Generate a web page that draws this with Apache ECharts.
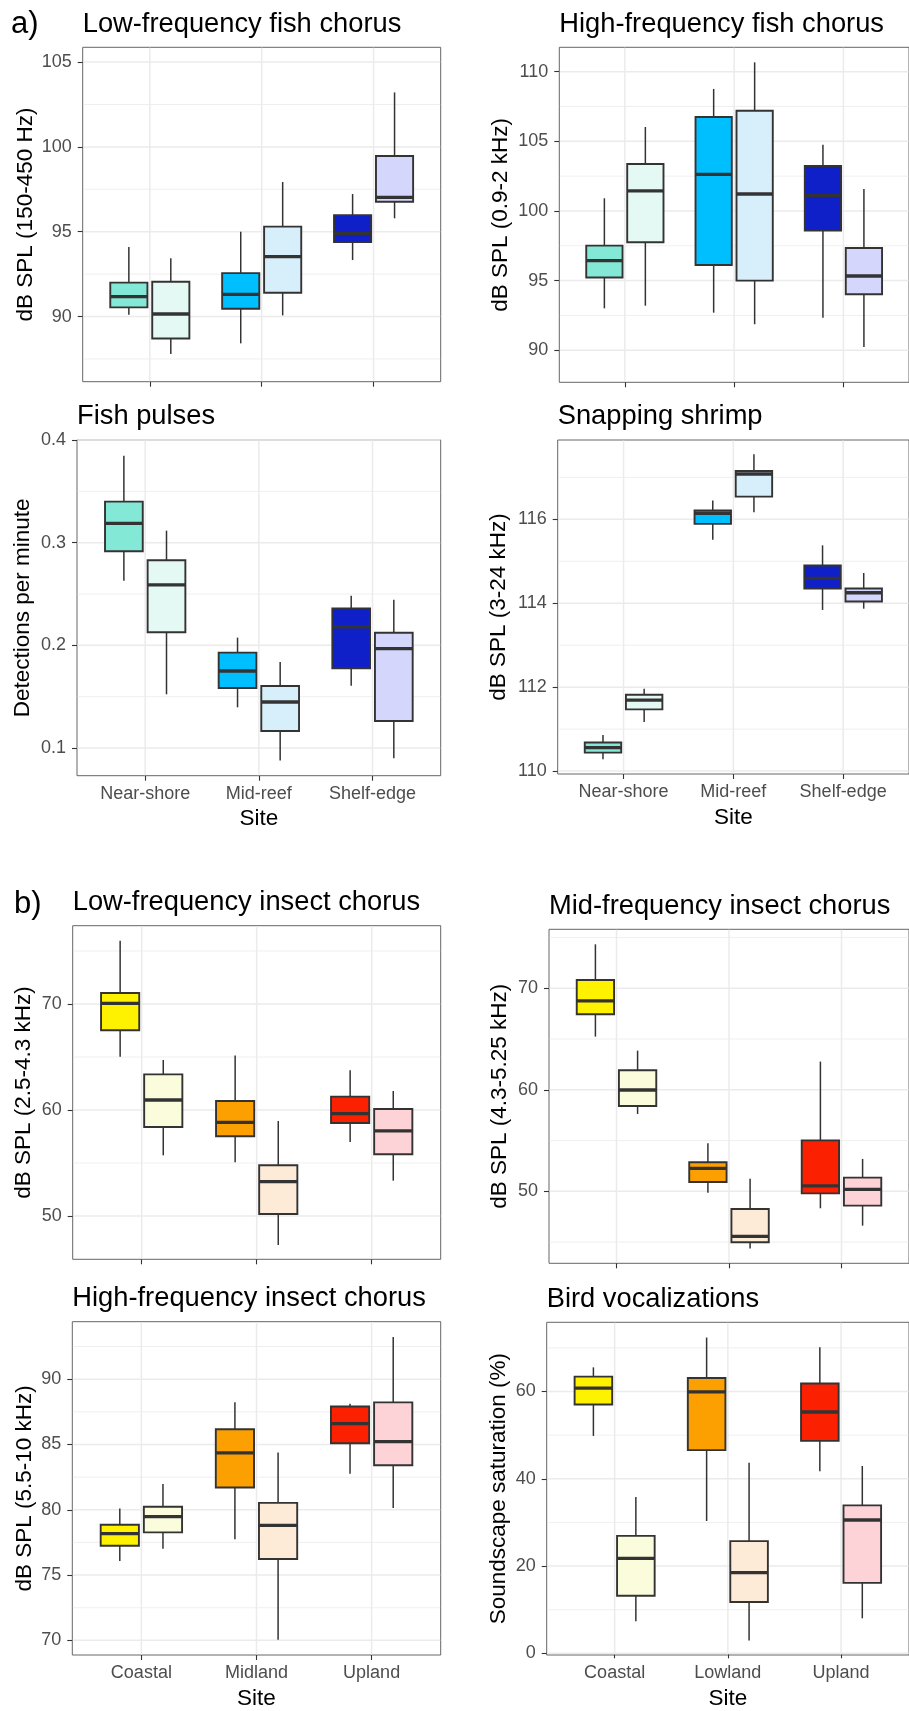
<!DOCTYPE html>
<html>
<head>
<meta charset="utf-8">
<script src="https://cdn.jsdelivr.net/npm/echarts@6/dist/echarts.min.js"></script>
<style>
html, body { margin: 0; padding: 0; background: #ffffff; }
#chart { width: 909px; height: 1711px; }
</style>
</head>
<body>
<div id="chart"></div>
<script>
// ---------------- DATA ----------------
// Sites (x categories)
const reefSites = ['Near-shore', 'Mid-reef', 'Shelf-edge'];
const insectSites = ['Coastal', 'Midland', 'Upland'];
const birdSites = ['Coastal', 'Lowland', 'Upland'];

// Each box: [lower whisker, Q1, median, Q3, upper whisker], one per site
// a) Low-frequency fish chorus
const lfFishDark  = [[90.10, 90.54, 91.17, 92.00, 94.10], [88.42, 90.46, 91.31, 92.56, 95.00], [93.33, 94.39, 94.90, 95.98, 97.22]];
const lfFishLight = [[87.79, 88.71, 90.15, 92.05, 93.43], [90.07, 91.40, 93.53, 95.30, 97.93], [95.79, 96.77, 97.02, 99.46, 103.21]];
// a) High-frequency fish chorus
const hfFishDark  = [[93.01, 95.22, 96.44, 97.51, 100.91], [92.70, 96.12, 102.63, 106.75, 108.76], [92.34, 98.59, 101.12, 103.23, 104.76]];
const hfFishLight = [[93.20, 97.75, 101.44, 103.37, 106.03], [91.87, 95.00, 101.22, 107.20, 110.67], [90.24, 94.02, 95.33, 97.34, 101.58]];
// a) Fish pulses
const pulsesDark  = [[0.263, 0.2916, 0.3188, 0.340, 0.3847], [0.1396, 0.1584, 0.175, 0.1929, 0.2075], [0.1607, 0.1776, 0.2179, 0.236, 0.2484]];
const pulsesLight = [[0.1523, 0.2127, 0.2588, 0.2828, 0.3117], [0.0877, 0.1166, 0.1448, 0.1604, 0.1838], [0.090, 0.1263, 0.1968, 0.2123, 0.2445]];
// a) Snapping shrimp
const shrimpDark  = [[110.28, 110.44, 110.56, 110.68, 110.86], [115.51, 115.89, 116.14, 116.21, 116.45], [113.84, 114.35, 114.59, 114.90, 115.38]];
const shrimpLight = [[111.17, 111.47, 111.69, 111.82, 111.96], [116.17, 116.54, 117.08, 117.15, 117.55], [113.87, 114.04, 114.25, 114.35, 114.72]];
// b) Low-frequency insect chorus
const lfInsectDark  = [[65.03, 67.52, 70.06, 71.04, 75.97], [55.06, 57.52, 58.84, 60.85, 65.13], [56.98, 58.77, 59.65, 61.26, 63.74]];
const lfInsectLight = [[55.72, 58.40, 60.94, 63.36, 64.72], [47.26, 50.19, 53.24, 54.78, 58.96], [53.33, 55.82, 58.02, 60.09, 61.79]];
// b) Mid-frequency insect chorus
const mfInsectDark  = [[65.24, 67.44, 68.75, 70.82, 74.33], [49.87, 50.92, 52.27, 52.86, 54.73], [48.33, 49.80, 50.53, 55.02, 62.78]];
const mfInsectLight = [[57.62, 58.41, 59.98, 61.92, 63.86], [44.38, 44.98, 45.57, 48.26, 51.25], [46.62, 48.59, 50.20, 51.35, 53.19]];
// b) High-frequency insect chorus
const hfInsectDark  = [[76.08, 77.25, 78.17, 78.85, 80.10], [77.74, 81.70, 84.36, 86.17, 88.24], [82.75, 85.09, 86.59, 87.91, 88.12]];
const hfInsectLight = [[77.02, 78.27, 79.47, 80.23, 81.98], [70.05, 76.23, 78.80, 80.53, 84.38], [80.13, 83.41, 85.22, 88.22, 93.23]];
// b) Bird vocalizations
const birdDark  = [[49.83, 57.04, 60.76, 63.41, 65.54], [30.33, 46.57, 59.92, 63.11, 72.37], [41.71, 48.69, 55.30, 61.82, 70.17]];
const birdLight = [[7.34, 13.19, 21.76, 26.92, 35.80], [2.94, 11.75, 18.50, 25.71, 43.69], [8.03, 16.15, 30.56, 33.90, 42.93]];

// Tick labels (major) and minor gridline values
const lfFishTicks = [90, 95, 100, 105],        lfFishMinor = [87.5, 92.5, 97.5, 102.5];
const hfFishTicks = [90, 95, 100, 105, 110],   hfFishMinor = [92.5, 97.5, 102.5, 107.5];
const pulsesTicks = [0.1, 0.2, 0.3, 0.4],      pulsesMinor = [0.15, 0.25, 0.35];
const shrimpTicks = [110, 112, 114, 116],      shrimpMinor = [111, 113, 115, 117];
const lfInsectTicks = [50, 60, 70],            lfInsectMinor = [55, 65, 75];
const mfInsectTicks = [50, 60, 70],            mfInsectMinor = [45, 55, 65, 75];
const hfInsectTicks = [70, 75, 80, 85, 90],    hfInsectMinor = [72.5, 77.5, 82.5, 87.5, 92.5];
const birdTicks = [0, 20, 40, 60],             birdMinor = [10, 30, 50, 70];

// ---------------- STYLE ----------------
const FONT = "'Liberation Sans', Arial, Helvetica, sans-serif";
const fishDarkCols  = ['#84E8D6', '#00BFFF', '#1020C8'];
const fishLightCols = ['#E5F9F4', '#D6EFFA', '#D4D6FC'];
const insectDarkCols  = ['#FFF200', '#FBA000', '#FA2000'];
const insectLightCols = ['#FBFCDB', '#FDEBD8', '#FED3D7'];
const EDGE = '#333333';
const DODGE = 0.1875;
const BOX_HALF = 0.166;
const TITLE_SIZE = 27.3;
const TICK_SIZE = 18;
const AXIS_TITLE_SIZE = 22.5;

const panels = [
  { title: 'Low-frequency fish chorus', yName: 'dB SPL (150-450 Hz)', dark: lfFishDark, light: lfFishLight,
    dc: fishDarkCols, lc: fishLightCols, ticks: lfFishTicks, minor: lfFishMinor, yMin: 86.16, yMax: 105.87,
    sites: reefSites, showX: false, grid: { left: 82.7, top: 47.3, width: 358, height: 334.4 }, nameGap: 57 },
  { title: 'High-frequency fish chorus', yName: 'dB SPL (0.9-2 kHz)', dark: hfFishDark, light: hfFishLight,
    dc: fishDarkCols, lc: fishLightCols, ticks: hfFishTicks, minor: hfFishMinor, yMin: 87.70, yMax: 111.75,
    sites: reefSites, showX: false, grid: { left: 559.3, top: 47.3, width: 359.4, height: 335 }, nameGap: 59 },
  { title: 'Fish pulses', yName: 'Detections per minute', dark: pulsesDark, light: pulsesLight,
    dc: fishDarkCols, lc: fishLightCols, ticks: pulsesTicks, minor: pulsesMinor, yMin: 0.073, yMax: 0.4,
    sites: reefSites, showX: true, grid: { left: 77, top: 440, width: 363.7, height: 335.7 }, nameGap: 54.5 },
  { title: 'Snapping shrimp', yName: 'dB SPL (3-24 kHz)', dark: shrimpDark, light: shrimpLight,
    dc: fishDarkCols, lc: fishLightCols, ticks: shrimpTicks, minor: shrimpMinor, yMin: 109.93, yMax: 117.89,
    sites: reefSites, showX: true, grid: { left: 557.7, top: 440, width: 359, height: 334 }, nameGap: 58.6 },
  { title: 'Low-frequency insect chorus', yName: 'dB SPL (2.5-4.3 kHz)', dark: lfInsectDark, light: lfInsectLight,
    dc: insectDarkCols, lc: insectLightCols, ticks: lfInsectTicks, minor: lfInsectMinor, yMin: 45.91, yMax: 77.39,
    sites: insectSites, showX: false, grid: { left: 72.7, top: 925.7, width: 368, height: 333.6 }, nameGap: 48.5 },
  { title: 'Mid-frequency insect chorus', yName: 'dB SPL (4.3-5.25 kHz)', dark: mfInsectDark, light: mfInsectLight,
    dc: insectDarkCols, lc: insectLightCols, ticks: mfInsectTicks, minor: mfInsectMinor, yMin: 42.91, yMax: 75.81,
    sites: insectSites, showX: false, grid: { left: 549, top: 929.3, width: 369.6, height: 334 }, nameGap: 49 },
  { title: 'High-frequency insect chorus', yName: 'dB SPL (5.5-10 kHz)', dark: hfInsectDark, light: hfInsectLight,
    dc: insectDarkCols, lc: insectLightCols, ticks: hfInsectTicks, minor: hfInsectMinor, yMin: 68.88, yMax: 94.40,
    sites: insectSites, showX: true, grid: { left: 72.3, top: 1321.7, width: 368.4, height: 334.3 }, nameGap: 48 },
  { title: 'Bird vocalizations', yName: 'Soundscape saturation (%)', dark: birdDark, light: birdLight,
    dc: insectDarkCols, lc: insectLightCols, ticks: birdTicks, minor: birdMinor, yMin: -0.38, yMax: 75.86,
    sites: birdSites, showX: true, grid: { left: 546.7, top: 1322.3, width: 370, height: 335 }, nameGap: 48 }
];

function boxRenderer(colors) {
  return function (params, api) {
    const x = api.value(0);
    const lo = api.coord([x, api.value(1)]);
    const q1 = api.coord([x, api.value(2)]);
    const md = api.coord([x, api.value(3)]);
    const q3 = api.coord([x, api.value(4)]);
    const hi = api.coord([x, api.value(5)]);
    const hw = api.size([BOX_HALF, 0])[0];
    const cx = lo[0];
    return {
      type: 'group',
      children: [
        { type: 'line', shape: { x1: cx, y1: lo[1], x2: cx, y2: q1[1] }, style: { stroke: EDGE, lineWidth: 1.5 } },
        { type: 'line', shape: { x1: cx, y1: q3[1], x2: cx, y2: hi[1] }, style: { stroke: EDGE, lineWidth: 1.5 } },
        { type: 'rect', shape: { x: cx - hw, y: q3[1], width: 2 * hw, height: q1[1] - q3[1] },
          style: { fill: colors[params.dataIndex], stroke: EDGE, lineWidth: 1.9 } },
        { type: 'line', shape: { x1: cx - hw, y1: md[1], x2: cx + hw, y2: md[1] }, style: { stroke: EDGE, lineWidth: 3.3 } }
      ]
    };
  };
}

function gridRenderer(params, api) {
  const cs = params.coordSys;
  const kind = api.value(2);
  const p = api.coord([api.value(0), api.value(1)]);
  if (kind === 2) {
    return { type: 'line', shape: { x1: p[0], y1: cs.y + 0.5, x2: p[0], y2: cs.y + cs.height - 0.5 },
      style: { stroke: '#EBEBEB', lineWidth: 1.5 } };
  }
  return { type: 'line', shape: { x1: cs.x + 0.5, y1: p[1], x2: cs.x + cs.width - 0.5, y2: p[1] },
    style: { stroke: '#EBEBEB', lineWidth: kind === 0 ? 1.5 : 0.8 } };
}

const option = {
  animation: false,
  backgroundColor: '#ffffff',
  title: [],
  grid: [],
  xAxis: [],
  yAxis: [],
  series: []
};

const tagStyle = { fontSize: 31, fontWeight: 'normal', color: '#000', fontFamily: FONT };
option.title.push({ text: 'a)', left: 11, top: 35 - 0.85 * 31, padding: 0, textStyle: tagStyle });
option.title.push({ text: 'b)', left: 14, top: 915 - 0.85 * 31, padding: 0, textStyle: tagStyle });

panels.forEach(function (p, i) {
  const g = p.grid;
  option.grid.push({ left: g.left, top: g.top, width: g.width, height: g.height, show: true,
    borderColor: '#666666', borderWidth: 1, backgroundColor: 'transparent', containLabel: false });
  option.title.push({ text: p.title, left: g.left, top: g.top - 17 - 0.72 * TITLE_SIZE, padding: 0,
    textStyle: { fontSize: TITLE_SIZE, fontWeight: 'normal', color: '#000', fontFamily: FONT } });
  option.xAxis.push({
    type: 'value', gridIndex: i, min: 0.4, max: 3.6,
    axisLine: { show: false }, splitLine: { show: false }, minorSplitLine: { show: false },
    axisTick: { show: true, customValues: [1, 2, 3], length: 5, lineStyle: { color: EDGE, width: 1.1 } },
    axisLabel: { show: p.showX, customValues: [1, 2, 3], formatter: function (v) { return p.sites[Math.round(v) - 1]; },
      color: '#4D4D4D', fontSize: TICK_SIZE, fontFamily: FONT, margin: 18.5, verticalAlign: 'middle' },
    name: p.showX ? 'Site' : '', nameLocation: 'middle', nameGap: 43.5,
    nameTextStyle: { fontSize: AXIS_TITLE_SIZE, color: '#000', fontFamily: FONT, verticalAlign: 'middle' }
  });
  option.yAxis.push({
    type: 'value', gridIndex: i, min: p.yMin, max: p.yMax,
    axisLine: { show: false }, splitLine: { show: false },
    axisTick: { show: true, customValues: p.ticks, length: 5, lineStyle: { color: EDGE, width: 1.1 } },
    axisLabel: { customValues: p.ticks, formatter: function (v) { return String(v); },
      color: '#4D4D4D', fontSize: TICK_SIZE, fontFamily: FONT, margin: 11 },
    name: p.yName, nameLocation: 'middle', nameGap: p.nameGap,
    nameTextStyle: { fontSize: AXIS_TITLE_SIZE, color: '#000', fontFamily: FONT, verticalAlign: 'middle' }
  });

  const mid = (p.yMin + p.yMax) / 2;
  const gridData = [];
  p.minor.forEach(function (v) { gridData.push([2, v, 1]); });
  p.ticks.forEach(function (v) { gridData.push([2, v, 0]); });
  [1, 2, 3].forEach(function (c) { gridData.push([c, mid, 2]); });
  option.series.push({ type: 'custom', xAxisIndex: i, yAxisIndex: i, z: 1, silent: true,
    renderItem: gridRenderer, data: gridData });

  const boxData = [];
  const cols = [];
  for (let k = 0; k < 3; k++) {
    boxData.push([k + 1 - DODGE].concat(p.dark[k]));
    cols.push(p.dc[k]);
    boxData.push([k + 1 + DODGE].concat(p.light[k]));
    cols.push(p.lc[k]);
  }
  option.series.push({ type: 'custom', xAxisIndex: i, yAxisIndex: i, z: 3, silent: true,
    encode: { x: 0, y: [1, 2, 3, 4, 5] }, renderItem: boxRenderer(cols), data: boxData });
});

const chart = echarts.init(document.getElementById('chart'), null, { renderer: 'canvas' });
chart.setOption(option);
</script>
</body>
</html>
